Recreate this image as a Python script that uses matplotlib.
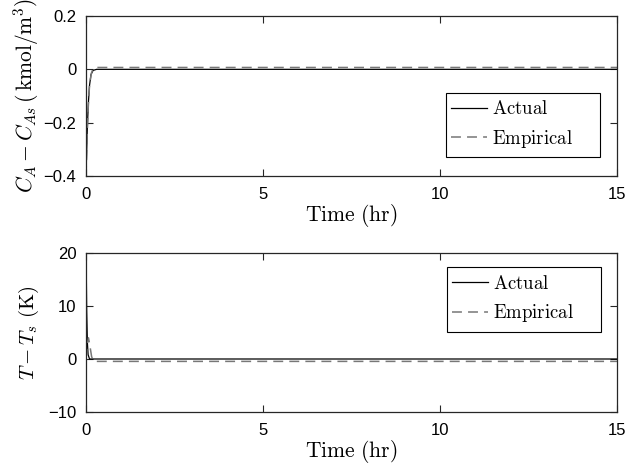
import matplotlib
matplotlib.use("Agg")
import matplotlib.pyplot as plt
from matplotlib.patches import Rectangle

# concentration deviation response
t_ca_actual = [0, 0.02, 0.04, 0.07, 0.1, 0.14, 0.2, 0.3, 15]
ca_actual = [-0.4, -0.3, -0.21, -0.12, -0.06, -0.02, -0.004, 0.0, 0.0]
t_ca_emp = [0, 0.03, 0.06, 0.1, 0.15, 0.2, 0.3, 15]
ca_emp = [-0.4, -0.26, -0.15, -0.06, -0.015, 0.002, 0.007, 0.007]

# temperature deviation response
t_T_actual = [0, 0.02, 0.04, 0.06, 0.1, 15]
T_actual = [21, 9, 3, 0.8, 0.0, 0.0]
t_T_emp = [0, 0.04, 0.07, 0.11, 0.16, 0.22, 0.3, 15]
T_emp = [0, 3, 4, 2.5, 0.4, -0.3, -0.45, -0.45]

xticks = [0, 5, 10, 15]
ca_ticks = [-0.4, -0.2, 0, 0.2]
T_ticks = [-10, 0, 10, 20]

plt.rcParams["font.family"] = ["Liberation Sans", "DejaVu Sans"]
plt.rcParams["mathtext.fontset"] = "cm"
plt.rcParams["font.size"] = 12

fig = plt.figure(figsize=(6.3, 4.65), dpi=100)
ax1 = fig.add_axes([86 / 630, 1 - 176 / 465, 531 / 630, 160 / 465])
ax2 = fig.add_axes([86 / 630, 1 - 412 / 465, 531 / 630, 159 / 465])

dash = (0, (6.5, 4))
lab_act = r"$\mathrm{Actual}$"
lab_emp = r"$\mathrm{Empirical}$"

ax1.plot(t_ca_actual, ca_actual, color="black", lw=0.9, label=lab_act)
ax1.plot(t_ca_emp, ca_emp, color="#777777", lw=1.1, ls=dash, label=lab_emp)
ax1.set_ylim(-0.4, 0.2)
ax1.set_yticks(ca_ticks)
ax1.set_yticklabels(["\u22120.4", "\u22120.2", "0", "0.2"])
ax1.set_ylabel(r"$C_A - C_{As}\,(\,\mathrm{kmol/m^3})$", fontsize=15.5)

ax2.plot(t_T_actual, T_actual, color="black", lw=0.9, label=lab_act)
ax2.plot(t_T_emp, T_emp, color="#777777", lw=1.1, ls=dash, label=lab_emp)
ax2.set_ylim(-10, 20)
ax2.set_yticks(T_ticks)
ax2.set_yticklabels(["\u221210", "0", "10", "20"])
ax2.set_ylabel(r"$T - T_s\ (\mathrm{K})$", fontsize=15)

for ax in (ax1, ax2):
    ax.set_xlim(0, 15)
    ax.set_xticks(xticks)
    ax.set_xlabel(r"$\mathrm{Time\ (hr)}$", fontsize=15.5, labelpad=0)
    ax.tick_params(direction="in", length=5, width=0.8, top=True, right=True,
                   colors="#262626", labelcolor="black")
    ax.tick_params(axis="x", pad=8)
    ax.tick_params(axis="y", pad=7)
    for s in ax.spines.values():
        s.set_linewidth(0.9)
        s.set_color("#262626")
    ax.yaxis.set_label_coords(-0.085, 0.5)


def add_legend(ax, x0, y0, x1, y1):
    # legend box is drawn separately so it can be wider than its entries
    box = Rectangle((x0, y0), x1 - x0, y1 - y0, transform=ax.transAxes,
                    facecolor="white", edgecolor="black", lw=0.8, zorder=4.5)
    ax.add_patch(box)
    ax.legend(loc="center left", bbox_to_anchor=(x0, (y0 + y1) / 2),
              frameon=False, borderaxespad=0, borderpad=0.27,
              handlelength=1.9, handletextpad=0.27, labelspacing=0.5,
              fontsize=13.5)


add_legend(ax1, 0.678, 0.119, 0.968, 0.519)
add_legend(ax2, 0.680, 0.503, 0.970, 0.912)

fig.savefig("out.png", dpi=100)
